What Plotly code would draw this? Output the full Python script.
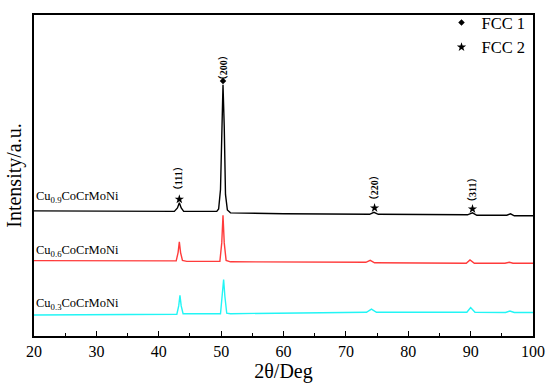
import plotly.graph_objects as go

# ---- data (intensity in arbitrary units) ----
x_09 = [20, 42.5, 43.0, 43.3, 43.6, 44.0, 49.3, 49.6, 49.9, 50.1, 50.3, 50.5, 50.7, 51.0, 51.5, 60,
        73.8, 74.5, 75.2, 89.5, 90.3, 91.0, 95.8, 96.4, 97.0, 100]
y_09 = [129, 128.5, 132, 137.5, 132, 128.5, 128.5, 131, 151, 216, 259, 216, 146, 130, 127, 126,
        125.5, 127.5, 125.5, 125, 127, 124.5, 124.5, 126, 124, 124]

x_06 = [20, 42.8, 43.1, 43.3, 43.5, 43.8, 44.5, 49.8, 50.1, 50.3, 50.5, 50.8, 51.5,
        73.2, 73.9, 74.6, 89.3, 89.9, 90.6, 95.5, 96.2, 96.8, 100]
y_06 = [77.7, 77.5, 86, 97, 86, 78, 77, 77, 96, 124.5, 96, 78, 76.5,
        76, 78, 75.5, 75, 78.5, 75, 75, 76, 75, 75]

x_03 = [20, 42.9, 43.2, 43.4, 43.6, 43.9, 49.9, 50.2, 50.4, 50.6, 50.9, 51.5,
        73.3, 74.1, 74.9, 89.4, 90.0, 90.7, 95.6, 96.3, 97.0, 100]
y_03 = [21.7, 22.5, 31, 42, 31, 23, 23, 41, 58.3, 41, 23.5, 23,
        24.5, 27.7, 24.5, 24.5, 29.3, 24.5, 24.3, 25.7, 24.3, 24.3]

series_names = ["Cu<sub>0.9</sub>CoCrMoNi", "Cu<sub>0.6</sub>CoCrMoNi", "Cu<sub>0.3</sub>CoCrMoNi"]
series_label_y = [143, 88, 33]
series_colors = ["#000000", "#ff3b3b", "#22f5f5"]

# phase markers
fcc1_x = [50.3]
fcc1_y = [263]
fcc2_x = [43.3, 74.6, 90.3]
fcc2_y = [141, 132, 131]

# peak index labels
hkl_labels = ["（111）", "（200）", "（220）", "（311）"]
hkl_x = [43.3, 50.3, 74.6, 90.3]
hkl_y = [163, 276, 153, 150]

x_ticks = [20, 30, 40, 50, 60, 70, 80, 90, 100]

FONT = "Liberation Serif, Times New Roman, serif"

fig = go.Figure()
for xs, ys, c in zip([x_09, x_06, x_03], [y_09, y_06, y_03], series_colors):
    fig.add_trace(go.Scatter(x=xs, y=ys, mode="lines", line=dict(color=c, width=1.4),
                             showlegend=False, hoverinfo="skip"))

fig.add_trace(go.Scatter(x=fcc1_x, y=fcc1_y, mode="markers", name="FCC 1",
                         marker=dict(symbol="diamond", size=5, color="black")))
fig.add_trace(go.Scatter(x=fcc2_x, y=fcc2_y, mode="markers", name="FCC 2",
                         marker=dict(symbol="star", size=7, color="black")))

for name, yv in zip(series_names, series_label_y):
    fig.add_annotation(x=20, y=yv, xref="x", yref="y", text=name, showarrow=False,
                       xanchor="left", yanchor="middle", xshift=0,
                       font=dict(family=FONT, size=12.5, color="black"))

for t, xv, yv in zip(hkl_labels, hkl_x, hkl_y):
    fig.add_annotation(x=xv, y=yv, xref="x", yref="y", text="<b>" + t + "</b>", showarrow=False,
                       textangle=-90, xanchor="center", yanchor="middle",
                       font=dict(family="Liberation Serif, Noto Sans CJK SC", size=10, color="black"))

fig.update_layout(
    width=550, height=388,
    margin=dict(l=34, r=15, t=5, b=52),
    paper_bgcolor="white", plot_bgcolor="white",
    font=dict(family=FONT, color="black"),
    legend=dict(x=0.995, y=1.03, xanchor="right", yanchor="top",
                bgcolor="rgba(0,0,0,0)", borderwidth=0,
                font=dict(family=FONT, size=16.5, color="black"),
                itemwidth=30, tracegroupgap=0),
    xaxis=dict(range=[20, 100], tickvals=x_ticks, ticktext=[str(v) for v in x_ticks],
               ticks="inside", ticklen=5, tickwidth=1.2, tickcolor="black",
               minor=dict(dtick=5, tick0=20, ticks="inside", ticklen=3, tickwidth=1.2, tickcolor="black"),
               showline=True, linecolor="black", linewidth=1.5, mirror=True,
               showgrid=False, zeroline=False,
               tickfont=dict(family=FONT, size=16, color="black"),
               title=dict(text="2θ/Deg", font=dict(family=FONT, size=20, color="black"), standoff=0)),
    yaxis=dict(range=[0, 331], showticklabels=False, ticks="",
               showline=True, linecolor="black", linewidth=1.5, mirror=True,
               showgrid=False, zeroline=False,
               title=dict(text="Intensity/a.u.", font=dict(family=FONT, size=20, color="black"), standoff=5)),
)

fig.write_html("out.html", config={"displayModeBar": False},
               post_script="document.body.style.margin='0';document.body.style.padding='0';")
